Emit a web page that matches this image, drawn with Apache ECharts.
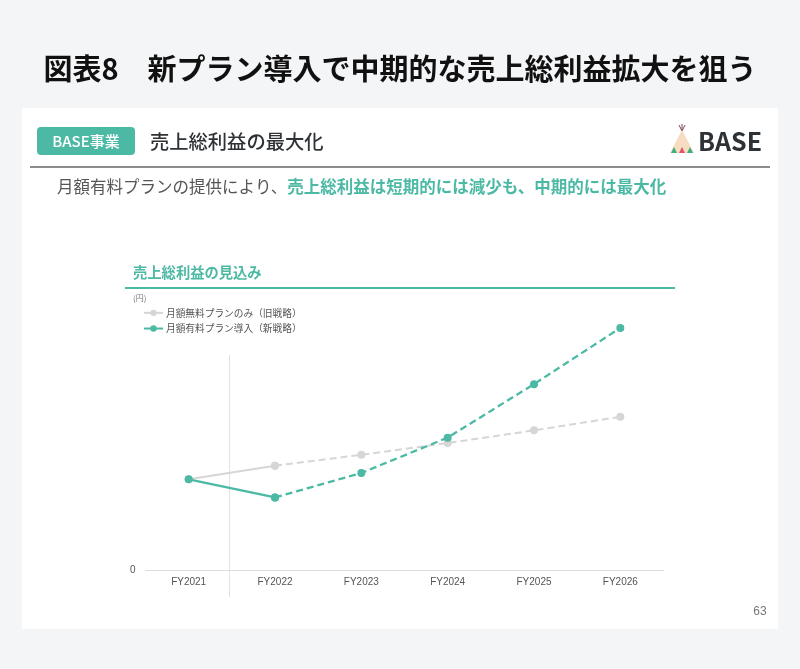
<!DOCTYPE html>
<html>
<head>
<meta charset="utf-8">
<script src="https://cdn.jsdelivr.net/npm/echarts@6/dist/echarts.min.js"></script>
<style>
html,body{margin:0;padding:0;background:#f4f5f7;}
#main{width:800px;height:669px;}
</style>
</head>
<body>
<div id="main"></div>
<script>
// ---- data ----
var categories = ['FY2021', 'FY2022', 'FY2023', 'FY2024', 'FY2025', 'FY2026'];
var oldStrategy = [100, 115, 127, 140, 154, 169];   // 月額無料プランのみ（旧戦略）
var newStrategy = [100, 80, 107, 146, 205, 267];    // 月額有料プラン導入（新戦略）
var yMin = 0;
var yMax = 300;
var nameOld = '月額無料プランのみ（旧戦略）';
var nameNew = '月額有料プラン導入（新戦略）';

var FONT = '"Noto Sans CJK JP", "Noto Sans", sans-serif';
var LATIN = '"Liberation Sans", Arial, sans-serif';
var TEAL = '#4cb9a4';
var GREY = '#d6d6d6';

function solidPart(arr) { return arr.map(function (v, i) { return i <= 1 ? v : null; }); }
function dashedPart(arr) { return arr.map(function (v, i) { return i >= 1 ? v : null; }); }

var chart = echarts.init(document.getElementById('main'), null, { renderer: 'canvas' });

function baseGraphics(divX) {
  var g = [
    { id: 'card', type: 'rect', z: -10, shape: { x: 22, y: 108, width: 756, height: 521 }, style: { fill: '#ffffff' } },
    { id: 'tagbox', type: 'rect', shape: { x: 37, y: 127, width: 98, height: 28, r: 4 }, style: { fill: TEAL } },
    { id: 'tagtext', type: 'text', x: 86, y: 141, style: { text: 'BASE事業', fill: '#ffffff', font: '500 15px ' + FONT, textAlign: 'center', textVerticalAlign: 'middle' } },
    { id: 'header', type: 'text', x: 150, y: 142, style: { text: '売上総利益の最大化', fill: '#2f3336', font: '500 19.3px ' + FONT, textAlign: 'left', textVerticalAlign: 'middle' } },
    { id: 'rule', type: 'line', shape: { x1: 30, y1: 167, x2: 770, y2: 167 }, style: { stroke: '#8c8c8c', lineWidth: 2 } },
    { id: 'sub', type: 'text', x: 57, y: 187, style: {
        text: '{a|月額有料プランの提供により、}{b|売上総利益は短期的には減少も、中期的には最大化}',
        textVerticalAlign: 'middle',
        rich: {
          a: { fill: '#555555', font: '400 16.5px ' + FONT },
          b: { fill: TEAL, font: '700 16.5px ' + FONT }
        }
      } },
    { id: 'ctitle', type: 'text', x: 133, y: 273, style: { text: '売上総利益の見込み', fill: TEAL, font: '700 14.3px ' + FONT, textAlign: 'left', textVerticalAlign: 'middle' } },
    { id: 'cline', type: 'line', shape: { x1: 125, y1: 288, x2: 675, y2: 288 }, style: { stroke: TEAL, lineWidth: 2 } },
    { id: 'unit', type: 'text', x: 133, y: 298, style: { text: '(円)', fill: '#777777', font: '400 8px ' + FONT, textAlign: 'left', textVerticalAlign: 'middle' } },
    { id: 'page', type: 'text', x: 760, y: 612, style: { text: '63', fill: '#777777', font: '400 12px ' + LATIN, textAlign: 'center', textVerticalAlign: 'middle' } },
    // logo
    { id: 'tipiStick1', type: 'line', shape: { x1: 682, y1: 131, x2: 679, y2: 125 }, style: { stroke: '#7a4a5a', lineWidth: 1 } },
    { id: 'tipiStick2', type: 'line', shape: { x1: 682, y1: 131, x2: 685, y2: 125 }, style: { stroke: '#7a4a5a', lineWidth: 1 } },
    { id: 'tipiStick3', type: 'line', shape: { x1: 682, y1: 131, x2: 682, y2: 124 }, style: { stroke: '#7a4a5a', lineWidth: 1 } },
    { id: 'tipi', type: 'polygon', shape: { points: [[682, 130], [670, 153], [694, 153]] }, style: { fill: '#f6dcc0' } },
    { id: 'tri1', type: 'polygon', shape: { points: [[674, 147], [671, 153], [677, 153]] }, style: { fill: '#3fae7c' } },
    { id: 'tri2', type: 'polygon', shape: { points: [[682, 147], [679, 153], [685, 153]] }, style: { fill: '#e0556b' } },
    { id: 'tri3', type: 'polygon', shape: { points: [[690, 147], [687, 153], [693, 153]] }, style: { fill: '#3fae7c' } },
    { id: 'logo', type: 'text', x: 698, y: 141, style: { text: 'BASE', fill: '#2d3237', font: '700 25px ' + FONT, textAlign: 'left', textVerticalAlign: 'middle' } }
  ];
  if (divX != null) {
    g.push({ id: 'divider', type: 'line', shape: { x1: divX, y1: 355, x2: divX, y2: 597 }, style: { stroke: '#e2e2e2', lineWidth: 1 } });
  }
  return g;
}

var option = {
  backgroundColor: '#f4f5f7',
  animation: false,
  textStyle: { fontFamily: FONT },
  title: {
    text: '図表8　新プラン導入で中期的な売上総利益拡大を狙う',
    left: 'center',
    top: 49,
    textStyle: { fontSize: 29, fontWeight: 'bold', color: '#111111', fontFamily: FONT }
  },
  legend: {
    orient: 'vertical',
    left: 143,
    top: 308,
    padding: 0,
    itemGap: 6,
    itemWidth: 19,
    itemHeight: 8,
    data: [nameOld, nameNew],
    textStyle: { fontSize: 9.7, color: '#555555', fontFamily: FONT, padding: [0, 0, 0, -2] }
  },
  grid: { left: 145.5, right: 136.5, top: 298, bottom: 99 },
  xAxis: {
    type: 'category',
    data: categories,
    boundaryGap: true,
    axisLine: { lineStyle: { color: '#dddddd' } },
    axisTick: { show: false },
    axisLabel: { color: '#555555', fontSize: 10, margin: 7, fontFamily: LATIN }
  },
  yAxis: {
    type: 'value',
    min: yMin,
    max: yMax,
    interval: yMax,
    axisLine: { show: false },
    axisTick: { show: false },
    splitLine: { show: false },
    axisLabel: {
      color: '#555555', fontSize: 10, margin: 10, fontFamily: LATIN,
      formatter: function (v) { return v === 0 ? '0' : ''; }
    }
  },
  graphic: baseGraphics(null),
  series: [
    {
      name: nameOld, type: 'line', data: solidPart(oldStrategy), z: 2,
      symbol: 'circle', symbolSize: 8,
      itemStyle: { color: GREY }, lineStyle: { color: GREY, width: 2, type: 'solid' }
    },
    {
      name: nameOld, type: 'line', data: dashedPart(oldStrategy), z: 2,
      symbol: 'circle', symbolSize: 8,
      itemStyle: { color: GREY }, lineStyle: { color: GREY, width: 2, type: [7, 4] }
    },
    {
      name: nameNew, type: 'line', data: solidPart(newStrategy), z: 3,
      symbol: 'circle', symbolSize: 8,
      itemStyle: { color: TEAL }, lineStyle: { color: TEAL, width: 2.3, type: 'solid' }
    },
    {
      name: nameNew, type: 'line', data: dashedPart(newStrategy), z: 3,
      symbol: 'circle', symbolSize: 8,
      itemStyle: { color: TEAL }, lineStyle: { color: TEAL, width: 2.3, type: [7, 4] }
    }
  ]
};

chart.setOption(option);
var p0 = chart.convertToPixel({ xAxisIndex: 0 }, categories[0]);
var p1 = chart.convertToPixel({ xAxisIndex: 0 }, categories[1]);
var divX = Math.round((p0 + p1) / 2) - 2.5;
chart.setOption({ graphic: baseGraphics(divX) });
</script>
</body>
</html>
